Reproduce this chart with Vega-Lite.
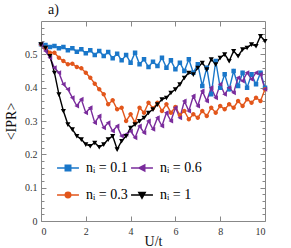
{
  "$schema": "https://vega.github.io/schema/vega-lite/v6.json",
  "width": 224,
  "height": 200,
  "autosize": "none",
  "padding": {"left": 41, "top": 21, "right": 26, "bottom": 27},
  "title": {"text": "a)", "anchor": "start", "frame": "group", "font": "Liberation Serif, serif", "fontSize": 14, "fontWeight": "normal", "color": "#111", "baseline": "bottom", "offset": -10, "dx": 7},
  "config": {
    "view": {"stroke": "#888888", "strokeWidth": 1},
    "axis": {"labelFont": "Liberation Serif, serif", "titleFont": "Liberation Serif, serif", "grid": false, "domain": false, "tickColor": "#888888", "labelColor": "#333333", "titleColor": "#111111", "titleFontWeight": "normal", "labelOverlap": false},
    "legend": {"orient": "none", "legendX": 20, "legendY": 140, "columns": 2, "columnPadding": 0, "rowPadding": 13, "symbolSize": 30, "symbolStrokeWidth": 1.5, "labelOffset": 11, "labelFont": "Liberation Serif, serif", "labelFontSize": 14, "labelColor": "#000000", "padding": 0}
  },
  "datasets": {
    "d": [
      {"U":0,"n":"0.1","v":0.530},{"U":0.2,"n":"0.1","v":0.528},{"U":0.4,"n":"0.1","v":0.522},{"U":0.6,"n":"0.1","v":0.525},{"U":0.8,"n":"0.1","v":0.518},{"U":1,"n":"0.1","v":0.522},{"U":1.2,"n":"0.1","v":0.512},{"U":1.4,"n":"0.1","v":0.518},{"U":1.6,"n":"0.1","v":0.508},{"U":1.8,"n":"0.1","v":0.515},
      {"U":2,"n":"0.1","v":0.503},{"U":2.2,"n":"0.1","v":0.512},{"U":2.4,"n":"0.1","v":0.498},{"U":2.6,"n":"0.1","v":0.510},{"U":2.8,"n":"0.1","v":0.495},{"U":3,"n":"0.1","v":0.507},{"U":3.2,"n":"0.1","v":0.488},{"U":3.4,"n":"0.1","v":0.502},{"U":3.6,"n":"0.1","v":0.482},{"U":3.8,"n":"0.1","v":0.498},
      {"U":4,"n":"0.1","v":0.475},{"U":4.2,"n":"0.1","v":0.505},{"U":4.4,"n":"0.1","v":0.470},{"U":4.6,"n":"0.1","v":0.485},{"U":4.8,"n":"0.1","v":0.462},{"U":5,"n":"0.1","v":0.478},{"U":5.2,"n":"0.1","v":0.465},{"U":5.4,"n":"0.1","v":0.490},{"U":5.6,"n":"0.1","v":0.460},{"U":5.8,"n":"0.1","v":0.482},
      {"U":6,"n":"0.1","v":0.455},{"U":6.2,"n":"0.1","v":0.475},{"U":6.4,"n":"0.1","v":0.450},{"U":6.6,"n":"0.1","v":0.485},{"U":6.8,"n":"0.1","v":0.445},{"U":7,"n":"0.1","v":0.470},{"U":7.2,"n":"0.1","v":0.405},{"U":7.4,"n":"0.1","v":0.460},{"U":7.6,"n":"0.1","v":0.380},{"U":7.8,"n":"0.1","v":0.480},
      {"U":8,"n":"0.1","v":0.400},{"U":8.2,"n":"0.1","v":0.440},{"U":8.4,"n":"0.1","v":0.395},{"U":8.6,"n":"0.1","v":0.450},{"U":8.8,"n":"0.1","v":0.405},{"U":9,"n":"0.1","v":0.445},{"U":9.2,"n":"0.1","v":0.400},{"U":9.4,"n":"0.1","v":0.440},{"U":9.6,"n":"0.1","v":0.410},{"U":9.8,"n":"0.1","v":0.445},{"U":10,"n":"0.1","v":0.400},

      {"U":0,"n":"0.3","v":0.530},{"U":0.2,"n":"0.3","v":0.520},{"U":0.4,"n":"0.3","v":0.505},{"U":0.6,"n":"0.3","v":0.505},{"U":0.8,"n":"0.3","v":0.490},{"U":1,"n":"0.3","v":0.480},{"U":1.2,"n":"0.3","v":0.470},{"U":1.4,"n":"0.3","v":0.472},{"U":1.6,"n":"0.3","v":0.462},{"U":1.8,"n":"0.3","v":0.458},
      {"U":2,"n":"0.3","v":0.445},{"U":2.2,"n":"0.3","v":0.430},{"U":2.4,"n":"0.3","v":0.412},{"U":2.6,"n":"0.3","v":0.395},{"U":2.8,"n":"0.3","v":0.380},{"U":3,"n":"0.3","v":0.350},{"U":3.2,"n":"0.3","v":0.362},{"U":3.4,"n":"0.3","v":0.335},{"U":3.6,"n":"0.3","v":0.340},{"U":3.8,"n":"0.3","v":0.300},
      {"U":4,"n":"0.3","v":0.320},{"U":4.2,"n":"0.3","v":0.295},{"U":4.4,"n":"0.3","v":0.340},{"U":4.6,"n":"0.3","v":0.325},{"U":4.8,"n":"0.3","v":0.355},{"U":5,"n":"0.3","v":0.338},{"U":5.2,"n":"0.3","v":0.355},{"U":5.4,"n":"0.3","v":0.330},{"U":5.6,"n":"0.3","v":0.350},{"U":5.8,"n":"0.3","v":0.325},
      {"U":6,"n":"0.3","v":0.342},{"U":6.2,"n":"0.3","v":0.318},{"U":6.4,"n":"0.3","v":0.330},{"U":6.6,"n":"0.3","v":0.305},{"U":6.8,"n":"0.3","v":0.320},{"U":7,"n":"0.3","v":0.310},{"U":7.2,"n":"0.3","v":0.330},{"U":7.4,"n":"0.3","v":0.315},{"U":7.6,"n":"0.3","v":0.340},{"U":7.8,"n":"0.3","v":0.325},
      {"U":8,"n":"0.3","v":0.345},{"U":8.2,"n":"0.3","v":0.335},{"U":8.4,"n":"0.3","v":0.350},{"U":8.6,"n":"0.3","v":0.340},{"U":8.8,"n":"0.3","v":0.360},{"U":9,"n":"0.3","v":0.345},{"U":9.2,"n":"0.3","v":0.365},{"U":9.4,"n":"0.3","v":0.355},{"U":9.6,"n":"0.3","v":0.370},{"U":9.8,"n":"0.3","v":0.360},{"U":10,"n":"0.3","v":0.395},

      {"U":0,"n":"0.6","v":0.530},{"U":0.2,"n":"0.6","v":0.510},{"U":0.4,"n":"0.6","v":0.490},{"U":0.6,"n":"0.6","v":0.460},{"U":0.8,"n":"0.6","v":0.445},{"U":1,"n":"0.6","v":0.410},{"U":1.2,"n":"0.6","v":0.395},{"U":1.4,"n":"0.6","v":0.370},{"U":1.6,"n":"0.6","v":0.345},{"U":1.8,"n":"0.6","v":0.365},
      {"U":2,"n":"0.6","v":0.325},{"U":2.2,"n":"0.6","v":0.340},{"U":2.4,"n":"0.6","v":0.295},{"U":2.6,"n":"0.6","v":0.315},{"U":2.8,"n":"0.6","v":0.280},{"U":3,"n":"0.6","v":0.295},{"U":3.2,"n":"0.6","v":0.270},{"U":3.4,"n":"0.6","v":0.285},{"U":3.6,"n":"0.6","v":0.255},{"U":3.8,"n":"0.6","v":0.260},
      {"U":4,"n":"0.6","v":0.270},{"U":4.2,"n":"0.6","v":0.250},{"U":4.4,"n":"0.6","v":0.285},{"U":4.6,"n":"0.6","v":0.265},{"U":4.8,"n":"0.6","v":0.300},{"U":5,"n":"0.6","v":0.275},{"U":5.2,"n":"0.6","v":0.310},{"U":5.4,"n":"0.6","v":0.285},{"U":5.6,"n":"0.6","v":0.325},{"U":5.8,"n":"0.6","v":0.300},
      {"U":6,"n":"0.6","v":0.340},{"U":6.2,"n":"0.6","v":0.310},{"U":6.4,"n":"0.6","v":0.360},{"U":6.6,"n":"0.6","v":0.330},{"U":6.8,"n":"0.6","v":0.375},{"U":7,"n":"0.6","v":0.345},{"U":7.2,"n":"0.6","v":0.390},{"U":7.4,"n":"0.6","v":0.360},{"U":7.6,"n":"0.6","v":0.400},{"U":7.8,"n":"0.6","v":0.370},
      {"U":8,"n":"0.6","v":0.410},{"U":8.2,"n":"0.6","v":0.380},{"U":8.4,"n":"0.6","v":0.400},{"U":8.6,"n":"0.6","v":0.385},{"U":8.8,"n":"0.6","v":0.430},{"U":9,"n":"0.6","v":0.420},{"U":9.2,"n":"0.6","v":0.445},{"U":9.4,"n":"0.6","v":0.425},{"U":9.6,"n":"0.6","v":0.445},{"U":9.8,"n":"0.6","v":0.440},{"U":10,"n":"0.6","v":0.395},

      {"U":0,"n":"1","v":0.530},{"U":0.2,"n":"1","v":0.520},{"U":0.4,"n":"1","v":0.495},{"U":0.6,"n":"1","v":0.445},{"U":0.8,"n":"1","v":0.380},{"U":1,"n":"1","v":0.330},{"U":1.2,"n":"1","v":0.290},{"U":1.4,"n":"1","v":0.275},{"U":1.6,"n":"1","v":0.255},{"U":1.8,"n":"1","v":0.245},
      {"U":2,"n":"1","v":0.230},{"U":2.2,"n":"1","v":0.225},{"U":2.4,"n":"1","v":0.235},{"U":2.6,"n":"1","v":0.222},{"U":2.8,"n":"1","v":0.230},{"U":3,"n":"1","v":0.245},{"U":3.2,"n":"1","v":0.255},{"U":3.4,"n":"1","v":0.215},{"U":3.6,"n":"1","v":0.240},{"U":3.8,"n":"1","v":0.255},
      {"U":4,"n":"1","v":0.280},{"U":4.2,"n":"1","v":0.290},{"U":4.4,"n":"1","v":0.300},{"U":4.6,"n":"1","v":0.310},{"U":4.8,"n":"1","v":0.325},{"U":5,"n":"1","v":0.335},{"U":5.2,"n":"1","v":0.350},{"U":5.4,"n":"1","v":0.365},{"U":5.6,"n":"1","v":0.370},{"U":5.8,"n":"1","v":0.385},
      {"U":6,"n":"1","v":0.395},{"U":6.2,"n":"1","v":0.410},{"U":6.4,"n":"1","v":0.430},{"U":6.6,"n":"1","v":0.445},{"U":6.8,"n":"1","v":0.440},{"U":7,"n":"1","v":0.460},{"U":7.2,"n":"1","v":0.475},{"U":7.4,"n":"1","v":0.455},{"U":7.6,"n":"1","v":0.485},{"U":7.8,"n":"1","v":0.470},
      {"U":8,"n":"1","v":0.490},{"U":8.2,"n":"1","v":0.500},{"U":8.4,"n":"1","v":0.480},{"U":8.6,"n":"1","v":0.510},{"U":8.8,"n":"1","v":0.495},{"U":9,"n":"1","v":0.515},{"U":9.2,"n":"1","v":0.520},{"U":9.4,"n":"1","v":0.530},{"U":9.6,"n":"1","v":0.525},{"U":9.8,"n":"1","v":0.555},{"U":10,"n":"1","v":0.540}
    ]
  },
  "data": {"name": "d"},
  "resolve": {"axis": {"x": "independent", "y": "independent"}},
  "layer": [
    {
      "mark": {"type": "line", "strokeWidth": 1.4},
      "encoding": {
        "x": {"field": "U", "type": "quantitative", "scale": {"domain": [0, 10], "nice": false, "zero": false},
          "axis": {"orient": "bottom", "values": [0, 2, 4, 6, 8, 10], "tickSize": -5, "labelPadding": 10, "labelFontSize": 10, "title": "U/t", "titleFontSize": 14, "titlePadding": -2}},
        "y": {"field": "v", "type": "quantitative", "scale": {"domain": [0, 0.6], "nice": false},
          "axis": {"orient": "left", "values": [0, 0.1, 0.2, 0.3, 0.4, 0.5], "tickSize": -5, "labelPadding": 9, "labelFontSize": 10, "labelExpr": "datum.value == 0 ? '0' : format(datum.value, '.1f')", "title": "<IPR>", "titleFontSize": 14, "titlePadding": 6}},
        "stroke": {"field": "n", "type": "nominal", "scale": {"domain": ["0.1", "0.3", "0.6", "1"], "range": ["#1a77c9", "#e2561b", "#7a2c9c", "#000000"]},
          "legend": {"title": null, "labelExpr": "'nᵢ = ' + datum.label"}}
      }
    },
    {
      "mark": {"type": "point", "filled": true, "size": 20, "opacity": 1},
      "encoding": {
        "x": {"field": "U", "type": "quantitative", "axis": null},
        "y": {"field": "v", "type": "quantitative", "axis": null},
        "color": {"field": "n", "type": "nominal", "scale": {"domain": ["0.1", "0.3", "0.6", "1"], "range": ["#1a77c9", "#e2561b", "#7a2c9c", "#000000"]},
          "legend": {"title": null, "labelExpr": "'nᵢ = ' + datum.label"}},
        "shape": {"field": "n", "type": "nominal",
          "legend": {"title": null, "labelExpr": "'nᵢ = ' + datum.label"},
          "scale": {"domain": ["0.1", "0.3", "0.6", "1"], "range": [
            "M-4,0H4M-1,-1H1V1H-1Z",
            "M-4,0H4M1,0A1,1,0,1,1,-1,0A1,1,0,1,1,1,0Z",
            "M-4,0H4M-1.1,0L1,-1.1L1,1.1Z",
            "M-4,0H4M-1.15,-0.9H1.15L0,1.15Z"
          ]}}
      }
    },
    {
      "transform": [{"filter": "datum.U < 0"}],
      "mark": {"type": "point"},
      "encoding": {
        "x": {"field": "U", "type": "quantitative", "axis": {"orient": "top", "values": [2, 4, 6, 8], "tickSize": -5, "labels": false, "title": null}},
        "y": {"field": "v", "type": "quantitative", "axis": {"orient": "right", "values": [0.1, 0.2, 0.3, 0.4, 0.5], "tickSize": -5, "labels": false, "title": null}}
      }
    },
    {
      "transform": [{"filter": "datum.U < 0"}],
      "mark": {"type": "point"},
      "encoding": {
        "x": {"field": "U", "type": "quantitative", "axis": null},
        "y": {"field": "v", "type": "quantitative", "axis": {"orient": "left", "values": [0.02, 0.04, 0.06, 0.08, 0.12, 0.14, 0.16, 0.18, 0.22, 0.24, 0.26, 0.28, 0.32, 0.34, 0.36, 0.38, 0.42, 0.44, 0.46, 0.48, 0.52, 0.54, 0.56, 0.58], "tickSize": -3, "labels": false, "title": null}}
      }
    },
    {
      "transform": [{"filter": "datum.U < 0"}],
      "mark": {"type": "point"},
      "encoding": {
        "x": {"field": "U", "type": "quantitative", "axis": null},
        "y": {"field": "v", "type": "quantitative", "axis": {"orient": "right", "values": [0.02, 0.04, 0.06, 0.08, 0.12, 0.14, 0.16, 0.18, 0.22, 0.24, 0.26, 0.28, 0.32, 0.34, 0.36, 0.38, 0.42, 0.44, 0.46, 0.48, 0.52, 0.54, 0.56, 0.58], "tickSize": -3, "labels": false, "title": null}}
      }
    }
  ]
}
